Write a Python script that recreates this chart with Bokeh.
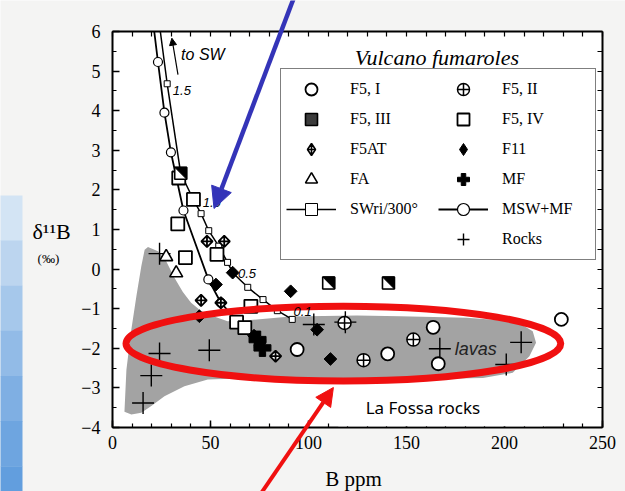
import math
from bokeh.plotting import figure
from bokeh.models import (Range1d, LinearAxis, SingleIntervalTicker, FixedTicker, Legend,
                          LegendItem, Label, Arrow, NormalHead, BoxAnnotation)
from bokeh.embed import file_html
from bokeh.resources import INLINE

# ---------------- data ----------------
f5i_x = [94.2, 140.4, 163.6, 166.2, 229.0]
f5i_y = [-2.03, -2.14, -1.47, -2.39, -1.27]
f5ii_x = [118.4, 128.1, 153.5]
f5ii_y = [-1.36, -2.30, -1.78]
f5iii_x = [34.8, 110.3, 140.8]
f5iii_y = [2.42, -0.35, -0.35]
f5iv_x = [33.8, 41.3, 33.3, 37.2, 53.3, 70.6, 63.3, 67.5]
f5iv_y = [2.30, 1.76, 1.14, 0.29, 0.37, -0.94, -1.34, -1.48]
f5at_x = [48.2, 57.0, 45.2, 55.3, 83.2]
f5at_y = [0.70, 0.70, -0.79, -0.85, -2.20]
f11_x = [61.3, 52.8, 90.9, 44.3, 72.2, 104.4, 111.2]
f11_y = [-0.09, -0.39, -0.56, -1.19, -1.68, -1.53, -2.27]
fa_x = [27.4, 32.5]
fa_y = [0.31, -0.10]
mf_x = [74.0, 76.5]
mf_y = [-1.78, -1.99]
rocks_x = [24.0, 24.0, 19.8, 15.6, 49.4, 102.7, 118.8, 167.0, 208.5, 200.9]
rocks_y = [0.39, -2.13, -2.69, -3.38, -2.05, -1.40, -1.34, -2.01, -1.85, -2.41]

# mixing curves (first point = where the curve leaves the top of the plot)
sw_x = [24.4, 27.9, 34.8, 41.3, 45.2, 49.1, 54.2, 58.7, 61.3, 69.0, 76.8, 84.1, 91.7]
sw_y = [6.0, 4.68, 2.42, 1.75, 1.40, 0.97, 0.58, 0.17, -0.09, -0.46, -0.77, -1.05, -1.27]
msw_x = [21.3, 23.2, 26.5, 29.8, 36.2, 48.9, 55.3, 63.5, 74.6]
msw_y = [6.0, 5.23, 3.95, 2.95, 1.48, -0.26, -0.85, -1.30, -1.90]

# shaded field of La Fossa lavas
lava_x = [6.1, 7.1, 9.6, 12.2, 14.7, 16.4, 18.1, 23.2, 27.4, 31.6, 35.9, 40.1, 45.2, 51.9,
          58.7, 68.9, 90.9, 124.7, 146.7, 180.6, 205.9, 214.4, 216.1, 212.7, 204.2, 189.0,
          146.7, 124.7, 74.0, 48.6, 36.7, 26.5, 19.8, 14.7, 9.6]
lava_y = [-3.60, -2.54, -1.53, -0.68, 0.07, 0.49, 0.56, 0.45, 0.20, -0.22, -0.58, -0.85,
          -1.06, -1.20, -1.32, -1.29, -1.20, -1.17, -1.19, -1.23, -1.32, -1.57, -1.86,
          -2.20, -2.62, -2.75, -2.79, -2.75, -2.75, -2.79, -2.96, -3.21, -3.46, -3.63, -3.67]

x_lo, x_hi, x_major, x_minor = 0, 250, 50, 10
y_lo, y_hi, y_major, y_minor = -4, 6, 1, 0.5

SERIF = "Liberation Serif"

# ---------------- layout: the data frame covers the whole canvas ----------------
W, H = 625, 491
FL, FR, FT, FB = 112, 602, 31, 427          # pixel box of the plotted axes
kx = (FR - FL) / (x_hi - x_lo)
ky = (FB - FT) / (y_hi - y_lo)
xr = Range1d(x_lo - FL / kx, x_hi + (W - FR) / kx)
yr = Range1d(y_lo - (H - FB) / ky, y_hi + FT / ky)

p = figure(width=W, height=H, x_range=xr, y_range=yr, output_backend="svg",
           toolbar_location=None, x_axis_location=None, y_axis_location=None,
           min_border=0)
p.background_fill_color = "#f4f4f3"
p.border_fill_color = "#f4f4f3"
p.outline_line_color = None
p.grid.visible = False

# white plotting area
p.add_layout(BoxAnnotation(left=x_lo, right=x_hi, bottom=y_lo, top=y_hi, fill_color="white",
                           fill_alpha=1, line_color=None, level="underlay"))

# slide background strip on the far left (light-to-dark blue)
strip_cols = ["#d3e4f4", "#bcd5ef", "#a6c8eb", "#92bbe7", "#7fafe3", "#6ea5e0", "#629ede"]
strip_top, strip_bot = 1.86, yr.start - 0.5
step = (strip_top - strip_bot) / len(strip_cols)
for i, c in enumerate(strip_cols):
    p.add_layout(BoxAnnotation(left=xr.start - 5, right=x_lo - (FL - 22) / kx,
                               bottom=strip_top - (i + 1) * step - 0.01, top=strip_top - i * step,
                               fill_color=c, fill_alpha=1, line_color=None, level="underlay"))

n_xm = int(round((x_hi - x_lo) / x_minor))
n_ym = int(round((y_hi - y_lo) / y_minor))
bottom = LinearAxis(fixed_location=y_lo, bounds=(x_lo, x_hi),
                    ticker=SingleIntervalTicker(interval=x_major, num_minor_ticks=5))
left = LinearAxis(fixed_location=x_lo, bounds=(y_lo, y_hi),
                  ticker=SingleIntervalTicker(interval=y_major, num_minor_ticks=2))
top = LinearAxis(fixed_location=y_hi, bounds=(x_lo, x_hi),
                 ticker=FixedTicker(ticks=[], minor_ticks=[x_lo + i * x_minor for i in range(n_xm + 1)]))
right = LinearAxis(fixed_location=x_hi, bounds=(y_lo, y_hi),
                   ticker=FixedTicker(ticks=[], minor_ticks=[y_lo + i * y_minor for i in range(n_ym + 1)]))
p.add_layout(bottom, "below")
p.add_layout(left, "left")
p.add_layout(top, "above")
p.add_layout(right, "right")
for ax in [bottom, left, top, right]:
    ax.major_tick_in = 7
    ax.major_tick_out = 0
    ax.minor_tick_in = 4
    ax.minor_tick_out = 0
    ax.axis_line_width = 2
    ax.axis_line_color = "black"
    ax.major_tick_line_width = 1.5
    ax.minor_tick_line_width = 1.2
    ax.major_label_text_font = SERIF
    ax.major_label_text_font_style = "normal"
    ax.major_label_text_font_size = "18px"
    ax.major_label_text_color = "black"
top.minor_tick_in = 5
right.minor_tick_in = 5
bottom.major_label_standoff = 8
left.major_label_standoff = 12

HX = 6.0 / kx   # half marker size in data units (x)
HY = 6.0 / ky   # half marker size in data units (y)
Q = math.pi / 4

# lava field
p.patch(lava_x, lava_y, fill_color="#a3a3a3", line_color=None)

# curves
r_sw_line = p.line(sw_x, sw_y, line_color="black", line_width=1.5)
r_sw_mark = p.scatter(sw_x[1:], sw_y[1:], marker="square", size=6, fill_color="white",
                      line_color="black", line_width=1)
r_msw_line = p.line(msw_x, msw_y, line_color="black", line_width=1.8)
r_msw_mark = p.scatter(msw_x[1:], msw_y[1:], marker="circle", size=9, fill_color="white",
                       line_color="black", line_width=1.2)

# samples
r_rocks = p.scatter(rocks_x, rocks_y, marker="cross", size=22, line_color="black", line_width=1.4)
r_fa = p.scatter(fa_x, fa_y, marker="triangle", size=13, fill_color="white",
                 line_color="black", line_width=1.6)
r_f5iv = p.scatter(f5iv_x, f5iv_y, marker="square", size=13, fill_color="white",
                   line_color="black", line_width=1.8)
r_f5iii_leg = p.scatter(f5iii_x, f5iii_y, marker="square", size=11, fill_color="#3c3c3c",
                        line_color="black", line_width=1.6)
r_f5iii = p.scatter(f5iii_x, f5iii_y, marker="square", size=12, fill_color="white",
                    line_color="black", line_width=1.6)
tri_xs = [[x - HX, x + HX, x + HX] for x in f5iii_x]
tri_ys = [[y + HY, y + HY, y - HY] for y in f5iii_y]
p.patches(tri_xs, tri_ys, fill_color="black", line_color="black", line_width=1)
r_f5at_leg = p.scatter(f5at_x, f5at_y, marker="diamond_cross", size=9, fill_color="white",
                       line_color="black", line_width=1.6)
p.scatter(f5at_x, f5at_y, marker="square_x", size=8, angle=Q, fill_color="white",
          line_color="black", line_width=1.8)
r_f11_leg = p.scatter(f11_x, f11_y, marker="diamond", size=10, fill_color="black",
                      line_color="black")
p.scatter(f11_x, f11_y, marker="square", size=9, angle=Q, fill_color="black", line_color="black")
r_mf = p.scatter(mf_x, mf_y, marker="plus", size=17, fill_color="black", line_color="black")
r_f5ii = p.scatter(f5ii_x, f5ii_y, marker="circle_cross", size=13, fill_color="white",
                   line_color="black", line_width=1.5)
r_f5i = p.scatter(f5i_x, f5i_y, marker="circle", size=13, fill_color="white",
                  line_color="black", line_width=1.8)
r_blank = p.scatter([], [], marker="circle", fill_alpha=0, line_alpha=0)

# red highlight ellipse
p.ellipse(x=[117.8], y=[-1.88], width=[221.8], height=[1.89], fill_alpha=0,
          line_color="#f01010", line_width=7)

# ---------------- legend ----------------
items = [
    LegendItem(label="F5, I", renderers=[r_f5i]),
    LegendItem(label="F5, III", renderers=[r_f5iii_leg]),
    LegendItem(label="F5AT", renderers=[r_f5at_leg]),
    LegendItem(label="FA", renderers=[r_fa]),
    LegendItem(label="SWri/300°", renderers=[r_sw_line, r_sw_mark]),
    LegendItem(label=" ", renderers=[r_blank]),
    LegendItem(label="F5, II", renderers=[r_f5ii]),
    LegendItem(label="F5, IV", renderers=[r_f5iv]),
    LegendItem(label="F11", renderers=[r_f11_leg]),
    LegendItem(label="MF", renderers=[r_mf]),
    LegendItem(label="MSW+MF", renderers=[r_msw_line, r_msw_mark]),
    LegendItem(label="Rocks", renderers=[r_rocks]),
]
legend = Legend(items=items, ncols=2, location=(280, H - 260),
                glyph_width=50, glyph_height=30, label_height=30, label_width=88,
                spacing=0, label_standoff=14, padding=5, margin=0,
                border_line_color="black", border_line_width=1.5,
                background_fill_color="white", background_fill_alpha=1,
                label_text_font=SERIF, label_text_font_size="16px",
                label_text_color="black")
p.add_layout(legend, "center")

# ---------------- texts ----------------
def lab(x, y, t, font=SERIF, size="16px", style="normal", align="left", color="black"):
    p.add_layout(Label(x=x, y=y, text=t, text_font=font, text_font_size=size,
                       text_font_style=style, text_align=align, text_baseline="middle",
                       text_color=color))

lab(165.5, 5.35, "Vulcano fumaroles", size="22px", style="italic", align="center")
lab(35.0, 5.42, "to SW", font="Liberation Sans", size="16px", style="italic")
lab(30.8, 4.51, "1.5", font="Liberation Sans", size="13px", style="italic")
lab(46.0, 1.69, "1.0", font="Liberation Sans", size="13px", style="italic")
lab(64.0, -0.11, "0.5", font="Liberation Sans", size="13px", style="italic")
lab(92.4, -1.06, "0.1", font="Liberation Sans", size="13px", style="italic")
lab(174.6, -2.03, "lavas", font="Liberation Sans", size="18px", style="italic", color="#222222")
lab(123.0, -5.29, "B ppm", size="21px", align="center")
lab(-31.1, 0.95, "δ¹¹B", size="22px", align="center")
lab(-32.7, 0.27, "(‰)", size="13px", align="center")

p.add_layout(Arrow(x_start=33.4, y_start=4.91, x_end=30.3, y_end=5.83, line_color="black",
                   line_width=1.2, end=NormalHead(size=7, fill_color="black", line_color="black")))

# white caption box
p.add_layout(BoxAnnotation(left=115.2, right=220.8, bottom=-3.97, top=-3.12,
                           fill_color="white", fill_alpha=1, line_color=None))
lab(158.4, -3.49, "La Fossa rocks", font="Noto Sans", size="17px", align="center")

# arrows
p.add_layout(Arrow(x_start=92.9, y_start=6.9, x_end=51.8, y_end=1.53, line_color="#3434b8",
                   line_width=4.5, end=NormalHead(size=21, fill_color="#3434b8",
                                                  line_color="#3434b8")))
p.add_layout(Arrow(x_start=74.6, y_start=-5.75, x_end=112.7, y_end=-2.99, line_color="#f01010",
                   line_width=4, end=NormalHead(size=18, fill_color="#f01010",
                                                line_color="#f01010")))

open("out.html", "w").write(file_html(p, INLINE))
